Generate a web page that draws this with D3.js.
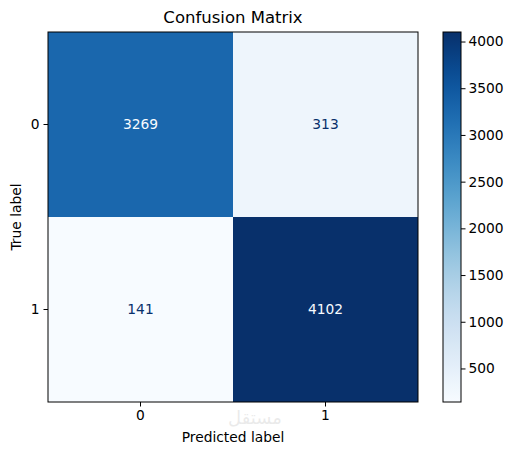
<!doctype html>
<html>
<head>
<meta charset="utf-8"/>
<style>
  body { margin: 0; background: #fff; }
  text { font-family: "DejaVu Sans", sans-serif; }
</style>
</head>
<body>
<script src="https://cdn.jsdelivr.net/npm/d3@7"></script>
<script>
// data
const labels = ['0', '1'];
const matrix = [
  [3269, 313],
  [141, 4102]
];
const cbarTicks = [500, 1000, 1500, 2000, 2500, 3000, 3500, 4000];

const W = 515, H = 455;
const m = { left: 48, top: 32, size: 370 };
const fs = 13.8;

const svg = d3.select('body').append('svg')
  .attr('width', W).attr('height', H);

const flat = matrix.flat();
const vmin = d3.min(flat), vmax = d3.max(flat);
const color = d3.scaleSequential(d3.interpolateBlues).domain([vmin, vmax]);

const x = d3.scaleBand().domain(labels).range([m.left, m.left + m.size]);
const y = d3.scaleBand().domain(labels).range([m.top, m.top + m.size]);

const cells = [];
matrix.forEach((row, i) => row.forEach((v, j) => cells.push({ t: labels[i], p: labels[j], v })));

svg.append('g').selectAll('rect')
  .data(cells)
  .join('rect')
  .attr('x', d => x(d.p))
  .attr('y', d => y(d.t))
  .attr('width', x.bandwidth())
  .attr('height', y.bandwidth())
  .attr('fill', d => color(d.v));

const thresh = (vmin + vmax) / 2;
svg.append('g').selectAll('text')
  .data(cells)
  .join('text')
  .attr('x', d => x(d.p) + x.bandwidth() / 2)
  .attr('y', d => y(d.t) + y.bandwidth() / 2)
  .attr('text-anchor', 'middle')
  .attr('dy', '0.35em')
  .attr('font-size', fs)
  .attr('fill', d => d.v > thresh ? color(vmin) : color(vmax))
  .text(d => d.v);

svg.append('rect')
  .attr('x', m.left).attr('y', m.top)
  .attr('width', m.size).attr('height', m.size)
  .attr('fill', 'none').attr('stroke', '#000').attr('stroke-width', 1);

const xAxis = svg.append('g')
  .attr('transform', `translate(0,${m.top + m.size})`)
  .call(d3.axisBottom(x).tickSize(4.5).tickPadding(4));
const yAxis = svg.append('g')
  .attr('transform', `translate(${m.left},0)`)
  .call(d3.axisLeft(y).tickSize(4.5).tickPadding(4));
[xAxis, yAxis].forEach(a => {
  a.select('.domain').remove();
  a.selectAll('text').attr('font-size', fs).attr('font-family', 'DejaVu Sans').attr('fill', '#000');
});

svg.append('text')
  .attr('x', m.left + m.size / 2).attr('y', 23)
  .attr('text-anchor', 'middle').attr('font-size', 16.5)
  .text('Confusion Matrix');

svg.append('text')
  .attr('x', m.left + m.size / 2).attr('y', 442)
  .attr('text-anchor', 'middle').attr('font-size', fs)
  .text('Predicted label');

svg.append('text')
  .attr('transform', `translate(21,${m.top + m.size / 2}) rotate(-90)`)
  .attr('text-anchor', 'middle').attr('font-size', fs)
  .text('True label');

// watermark
svg.append('text')
  .attr('x', 255).attr('y', 424)
  .attr('text-anchor', 'middle').attr('font-size', 18)
  .attr('font-family', 'Noto Sans, DejaVu Sans')
  .attr('fill', '#000').attr('opacity', 0.08)
  .text('مستقل');

// colorbar
const cb = { x: 443, w: 18 };
const cy = d3.scaleLinear().domain([vmin, vmax]).range([m.top + m.size, m.top]);
const defs = svg.append('defs');
const grad = defs.append('linearGradient')
  .attr('id', 'cbgrad').attr('x1', 0).attr('y1', 1).attr('x2', 0).attr('y2', 0);
d3.range(0, 1.001, 0.05).forEach(t => {
  grad.append('stop').attr('offset', t).attr('stop-color', d3.interpolateBlues(t));
});
svg.append('rect')
  .attr('x', cb.x).attr('y', m.top)
  .attr('width', cb.w).attr('height', m.size)
  .attr('fill', 'url(#cbgrad)')
  .attr('stroke', '#000').attr('stroke-width', 1);

const cAxis = svg.append('g')
  .attr('transform', `translate(${cb.x + cb.w},0)`)
  .call(d3.axisRight(cy).tickValues(cbarTicks).tickFormat(d3.format('d')).tickSize(4.5).tickPadding(3));
cAxis.select('.domain').remove();
cAxis.selectAll('text').attr('font-size', fs).attr('font-family', 'DejaVu Sans').attr('fill', '#000');
</script>
</body>
</html>
